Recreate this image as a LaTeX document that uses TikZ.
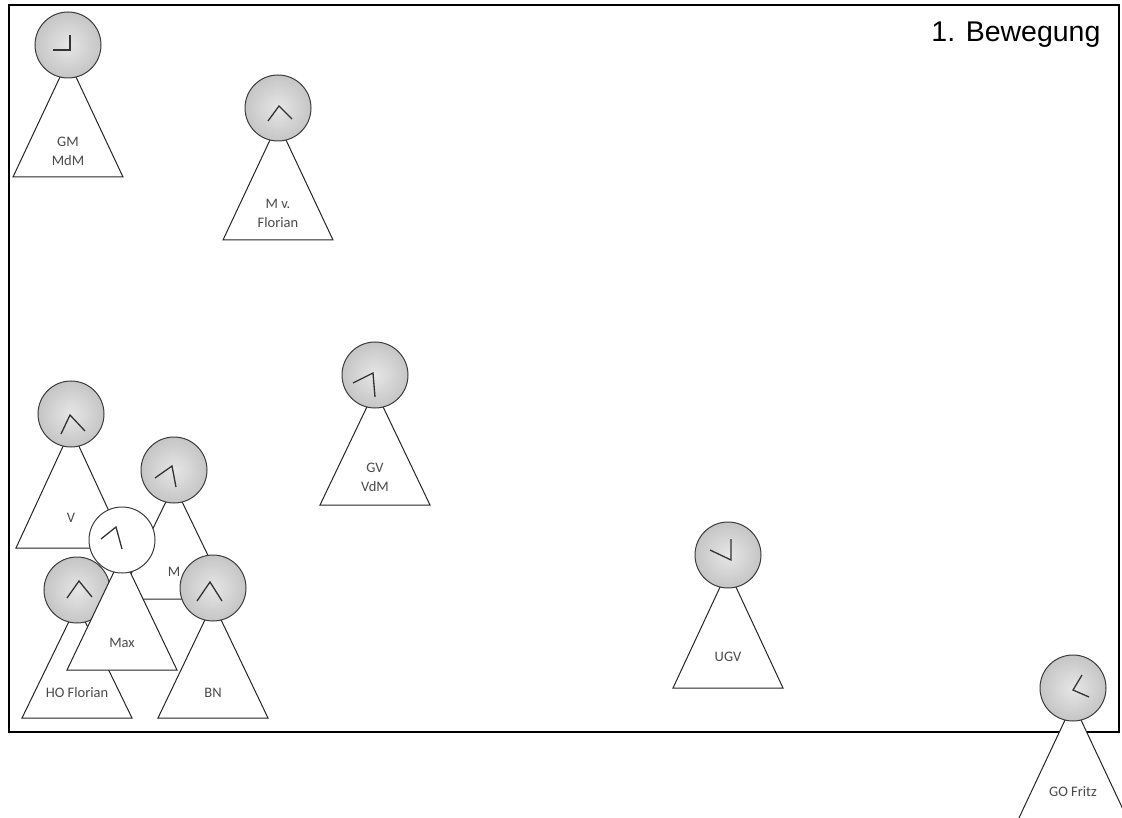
\documentclass[tikz,border=0pt]{standalone}
\usepackage{fontspec}
\setmainfont{Carlito}
\newfontfamily\titelschrift{Liberation Sans}
\usetikzlibrary{positioning}
\definecolor{kontur}{HTML}{3C3C3C}
\definecolor{kopfhell}{HTML}{E6E6E6}
\definecolor{kopfdunkel}{HTML}{A4A4A4}
\definecolor{textgrau}{HTML}{4A4A4A}
\pgfdeclareradialshading{kopfverlauf}{\pgfpoint{0bp}{0bp}}{color(0bp)=(kopfhell); color(50bp)=(kopfdunkel); color(60bp)=(kopfdunkel)}

\begin{document}
\begin{tikzpicture}[
  x=1pt, y=-1pt,
  kreis/.style={circle, draw=kontur, line width=1pt, minimum size=66pt, inner sep=0pt},
  kopf/.style={kreis, shading=kopfverlauf},
  leerkopf/.style={kreis, fill=white},
  kegel/.style={draw=black!85, line width=1pt, fill=white, line join=miter},
  zeiger/.style={draw=black!80, line width=1.3pt},
  beschriftung/.style={font=\fontsize{14.5}{19}\selectfont, text=textgrau, align=center, inner sep=0pt},
  rahmen/.style={draw=black, line width=2pt}
]
\useasboundingbox (0,0) rectangle (1122,818);
\clip (0,0) rectangle (1122,818);
\fill[white] (0,0) rectangle (1122,818);
\draw[rahmen] (9,5) rectangle (1119,732);
\node[anchor=base east, font=\titelschrift\fontsize{28.5}{32}\selectfont] (titel) at (1104,42) {1. Bewegung};

% GM
\coordinate (gm) at (68,45);
\filldraw[kegel, shift={(gm)}] (0,15) -- (-55,132) -- (55,132) -- cycle;
\node[beschriftung] (gmname) at ([yshift=-106pt]gm) {GM\\MdM};
\node[kopf] (gmkopf) at (gm) {};
\draw[zeiger, shift={(gm)}] (-15,5) -- (2,5) -- (2,-10);

% M v. Florian
\coordinate (mvf) at (278,108);
\filldraw[kegel, shift={(mvf)}] (0,15) -- (-55,132) -- (55,132) -- cycle;
\node[beschriftung] (mvfname) at ([yshift=-105pt]mvf) {M v.\\Florian};
\node[kopf] (mvfkopf) at (mvf) {};
\draw[zeiger, shift={(mvf)}] (-10,13) -- (1,-2) -- (14,11);

% GV
\coordinate (gv) at (375,375);
\filldraw[kegel, shift={(gv)}] (0,15) -- (-55,130) -- (55,130) -- cycle;
\node[beschriftung] (gvname) at ([yshift=-102pt]gv) {GV\\VdM};
\node[kopf] (gvkopf) at (gv) {};
\draw[zeiger, shift={(gv)}] (-22,8) -- (-2,-2) -- (0,22);

% UGV
\coordinate (ugv) at (728,555);
\filldraw[kegel, shift={(ugv)}] (0,15) -- (-55,133) -- (55,133) -- cycle;
\node[beschriftung] (ugvname) at ([yshift=-102pt]ugv) {UGV};
\node[kopf] (ugvkopf) at (ugv) {};
\draw[zeiger, shift={(ugv)}] (-18,-5) -- (3,5) -- (3,-16);

% GO Fritz
\coordinate (go) at (1073,688);
\filldraw[kegel, shift={(go)}] (0,15) -- (-55,132) -- (55,132) -- cycle;
\node[beschriftung] (goname) at ([yshift=-104pt]go) {GO Fritz};
\node[kopf] (gokopf) at (go) {};
\draw[zeiger, shift={(go)}] (9,-13) -- (0,2) -- (16,9);

% V
\coordinate (v) at (71,414);
\filldraw[kegel, shift={(v)}] (0,15) -- (-55,134) -- (55,134) -- cycle;
\node[beschriftung] (vname) at ([yshift=-104pt]v) {V};
\node[kopf] (vkopf) at (v) {};
\draw[zeiger, shift={(v)}] (-10,20) -- (-1,1) -- (14,17);

% M
\coordinate (m) at (174,470);
\filldraw[kegel, shift={(m)}] (0,15) -- (-55,129) -- (55,129) -- cycle;
\node[beschriftung] (mname) at ([yshift=-102pt]m) {M};
\node[kopf] (mkopf) at (m) {};
\draw[zeiger, shift={(m)}] (-19,8) -- (-2,-4) -- (2,17);

% HO Florian
\coordinate (ho) at (77,590);
\filldraw[kegel, shift={(ho)}] (0,15) -- (-55,128) -- (55,128) -- cycle;
\node[beschriftung] (honame) at ([yshift=-103pt]ho) {HO Florian};
\node[kopf] (hokopf) at (ho) {};
\draw[zeiger, shift={(ho)}] (-10,8) -- (2,-9) -- (15,7);

% Max
\coordinate (max) at (122,540);
\filldraw[kegel, shift={(max)}] (0,15) -- (-55,130) -- (55,130) -- cycle;
\node[beschriftung] (maxname) at ([yshift=-103pt]max) {Max};
\node[leerkopf] (maxkopf) at (max) {};
\draw[zeiger, shift={(max)}] (-21,-1) -- (-6,-13) -- (0,9);

% BN
\coordinate (bn) at (213,588);
\filldraw[kegel, shift={(bn)}] (0,15) -- (-55,130) -- (55,130) -- cycle;
\node[beschriftung] (bnname) at ([yshift=-105pt]bn) {BN};
\node[kopf] (bnkopf) at (bn) {};
\draw[zeiger, shift={(bn)}] (-16,13) -- (-3,-6) -- (9,13);
\end{tikzpicture}
\end{document}
